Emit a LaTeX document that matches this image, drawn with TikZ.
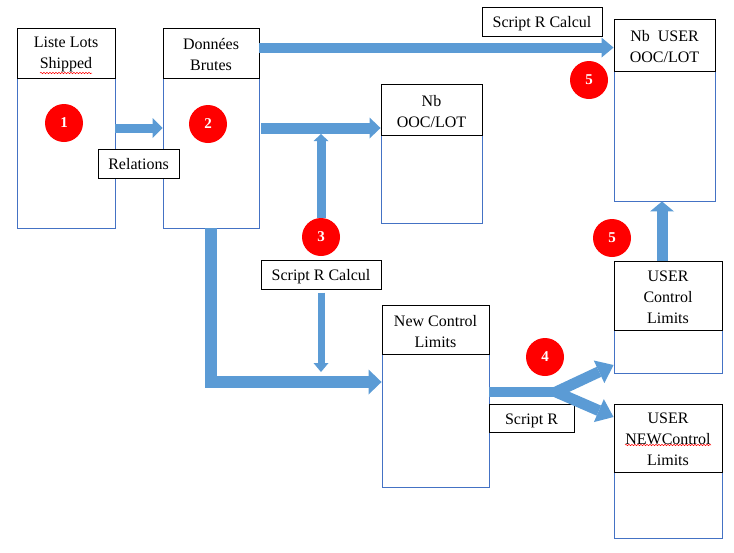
\documentclass[tikz,border=0pt]{standalone}
\usepackage{fontspec}
\setmainfont{Liberation Serif}
\usetikzlibrary{arrows.meta,decorations.pathmorphing}
\definecolor{flowblue}{RGB}{91,155,213}
\definecolor{boxblue}{RGB}{68,114,196}
\tikzset{
  body/.style={draw=boxblue, line width=0.9pt, rectangle, inner sep=0pt},
  head/.style={draw=black, line width=1pt, fill=white, anchor=north, inner sep=0pt,
    label={[align=center, inner sep=0pt, yshift=-1.5pt, font=\fontsize{16}{21}\selectfont]center:#1}},
  tag/.style={draw=black, line width=1pt, fill=white, inner sep=0pt, text height=12pt, text depth=0pt, font=\fontsize{16}{21}\selectfont},
  num/.style={circle, fill=red, text=white, minimum size=38pt, inner sep=0pt, font=\fontsize{15}{15}\selectfont\bfseries},
  shaft/.style={draw=flowblue, line width=#1},
  flow/.style n args={3}{draw=flowblue, line width=#1, -{Triangle[length=#2,width=#3,line width=0pt]}},
  squiggle/.style={draw=red, line width=0.5pt, decorate, decoration={snake, amplitude=0.7pt, segment length=3pt}}
}
\begin{document}
\begin{tikzpicture}[x=1pt,y=-1pt]
\useasboundingbox (0,0) rectangle (734,552);

\node[body, minimum width=98pt, minimum height=200pt] (lots) at (66,128) {};
\node[head={Liste Lots\\Shipped}, minimum width=98pt, minimum height=50pt] (lotsT) at (lots.north) {};
\node[body, minimum width=96pt, minimum height=200pt] (donnees) at (211,128) {};
\node[head={Données\\Brutes}, minimum width=96pt, minimum height=50pt] (donneesT) at (donnees.north) {};
\node[body, minimum width=101pt, minimum height=139pt] (nbooc) at (431.5,153.5) {};
\node[head={Nb\\OOC/LOT}, minimum width=101pt, minimum height=51pt] (nboocT) at (nbooc.north) {};
\node[body, minimum width=101pt, minimum height=182pt] (nbuser) at (664.5,110) {};
\node[head={Nb~ USER\\OOC/LOT}, minimum width=101pt, minimum height=52pt] (nbuserT) at (nbuser.north) {};
\node[body, minimum width=107pt, minimum height=182pt] (newcl) at (435.5,396) {};
\node[head={New Control\\Limits}, minimum width=107pt, minimum height=49pt] (newclT) at (newcl.north) {};
\node[body, minimum width=108pt, minimum height=112pt] (usercl) at (668,317) {};
\node[head={USER\\Control\\Limits}, minimum width=108pt, minimum height=69pt] (userclT) at (usercl.north) {};
\node[body, minimum width=108pt, minimum height=134pt] (usernew) at (668,471) {};
\node[head={USER\\NEWControl\\Limits}, minimum width=108pt, minimum height=68pt] (usernewT) at (usernew.north) {};

\draw[squiggle] (40,73) -- (92,73);
\draw[squiggle] (625,445) -- (711,445);

\node[tag, minimum width=81pt, minimum height=29pt] (rel) at (138.5,163.5) {Relations};
\node[tag, minimum width=120pt, minimum height=29pt] (scr1) at (542,21.5) {Script R Calcul};
\node[tag, minimum width=120pt, minimum height=29pt] (scr3) at (321,274.5) {Script R Calcul};
\node[tag, minimum width=85pt, minimum height=28pt] (scr4) at (531.5,418) {Script R};

\coordinate (top) at ([yshift=-20pt]donnees.north east);
\coordinate (hit) at (321,134);
\coordinate (drop) at (321,372);
\coordinate (bend) at (211,382);
\coordinate (fork) at (566,392);
\coordinate (split) at (556,392);
\coordinate (rise) at ([xshift=-6pt]usercl.north);

\node[num] (c1) at (64,123) {1};
\node[num] (c2) at (208,124) {2};
\node[num] (c3) at (321,237) {3};
\node[num] (c4) at (545,357) {4};
\node[num] (c5a) at (589,80) {5};
\node[num] (c5b) at (612,238) {5};

\draw[flow={9pt}{10pt}{20pt}] (lots.east) -- (donnees.west);
\draw[flow={10pt}{12pt}{20pt}] (top) -- (top -| nbuser.west);
\draw[flow={11pt}{11pt}{21pt}] ([xshift=2pt]donnees.east) -- (donnees.east -| nbooc.west);
\draw[flow={9pt}{7pt}{15pt}] (c3.north) -- (hit);
\draw[flow={7pt}{9pt}{15pt}] ([yshift=-3pt]scr3.south) -- (drop);
\draw[flow={12pt}{13pt}{25pt}] (donnees.south) |- (bend -| newcl.west);
\draw[shaft=10pt] (newcl.east |- fork) -- (fork);
\draw[flow={11pt}{16pt}{25pt}] (split) -- ([yshift=-48pt]usercl.west);
\draw[flow={11pt}{16pt}{25pt}] (split) -- ([yshift=54pt]usernew.west);
\draw[flow={11pt}{10pt}{24pt}] (rise) -- (rise |- nbuser.south);
\end{tikzpicture}
\end{document}
